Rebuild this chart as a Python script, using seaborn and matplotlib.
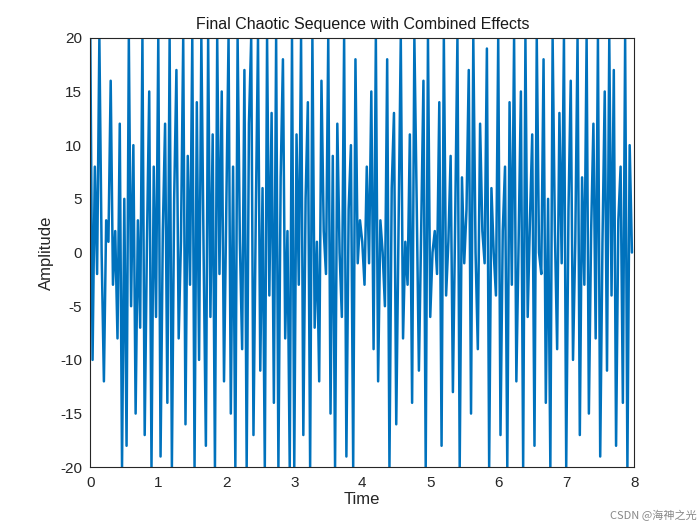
import matplotlib.pyplot as plt
import seaborn as sns
import pandas as pd

# amplitude values, 30 samples per time unit
amp_0 = [20, -10, 8, -2, 20, 0, -12, 3, 1, 16, -3, 2, -8, 12, -20, 5, -18, 20, -5, 10, -15, 3, -7, 20, -17, 1, 15, -20, 8, -6]
amp_1 = [20, -19, 2, 12, -14, 20, -20, 5, 17, -8, 1, 20, -16, 9, -3, 20, -20, 14, -10, 20, 0, -18, 20, -6, 11, -20, 20, -2, 15, -12]
amp_2 = [4, 20, -15, 8, -20, 20, 1, -9, 17, -20, 12, 20, -17, 3, 20, -11, 6, -20, 20, -4, 13, -14, 20, -20, 7, 18, -8, 2, -20, 20]
amp_3 = [-20, 11, -3, 20, -17, 5, 14, -20, 20, -7, 1, -12, 16, 2, -2, 20, -15, 9, -20, 12, 0, -6, 20, -19, 4, 10, -20, 18, -1, 3]
amp_4 = [1, -3, 8, -1, 15, -9, 20, -12, 3, 0, -5, 18, -20, 6, 13, -16, 2, 20, -8, 1, -3, 11, -14, 20, 5, -11, 2, 16, -20, 20]
amp_5 = [-6, 0, 2, -2, 14, -18, 20, -4, 1, 9, -13, 3, 20, -20, 7, -1, 4, 17, -15, 20, 0, -9, 12, 2, -1, 19, -20, 6, 0, -4]
amp_6 = [20, -17, 2, 8, -20, 14, -3, 20, -12, 1, 15, -20, 20, -6, 3, 11, -18, 20, 0, -2, 18, -14, 5, -20, 20, 2, -9, 13, -1, 20]
amp_7 = [-20, 4, 16, -10, 1, 20, -17, 7, -3, 20, -15, 2, 12, -8, 20, -19, 1, 15, -11, 20, -4, 17, -18, 3, 8, -14, 20, -20, 10, 0]

amplitude = amp_0 + amp_1 + amp_2 + amp_3 + amp_4 + amp_5 + amp_6 + amp_7
time = [i / 30 for i in range(len(amplitude))]
df = pd.DataFrame({'Time': time, 'Amplitude': amplitude})

sns.set_style("white")
plt.rcParams['font.family'] = ['Arial', 'Liberation Sans', 'Noto Sans CJK SC', 'DejaVu Sans']
plt.rcParams['axes.unicode_minus'] = False

fig = plt.figure(figsize=(7, 5.25), dpi=100)
ax = fig.add_axes([0.129, 0.110, 0.777, 0.818])
sns.lineplot(data=df, x='Time', y='Amplitude', color='#0072BD', linewidth=1.8, ax=ax)

ax.set_xlim(0, 8)
ax.set_ylim(-20, 20)
ax.set_xticks(range(0, 9))
ax.set_yticks(range(-20, 21, 5))
ax.tick_params(direction='in', length=4, labelsize=11, colors='#262626', pad=6)
for s in ax.spines.values():
    s.set_color('#262626')
    s.set_linewidth(0.8)
ax.set_title('Final Chaotic Sequence with Combined Effects', fontsize=11.5, color='#1a1a1a')
ax.set_xlabel('Time', fontsize=12, color='#262626', labelpad=2)
ax.set_ylabel('Amplitude', fontsize=12, color='#262626')

fig.text(0.995, 0.008, 'CSDN @海神之光', ha='right', va='bottom', fontsize=8, color='#888888',
         family=['Noto Sans CJK SC', 'DejaVu Sans'])

plt.savefig('out.png', dpi=100)
plt.close()
